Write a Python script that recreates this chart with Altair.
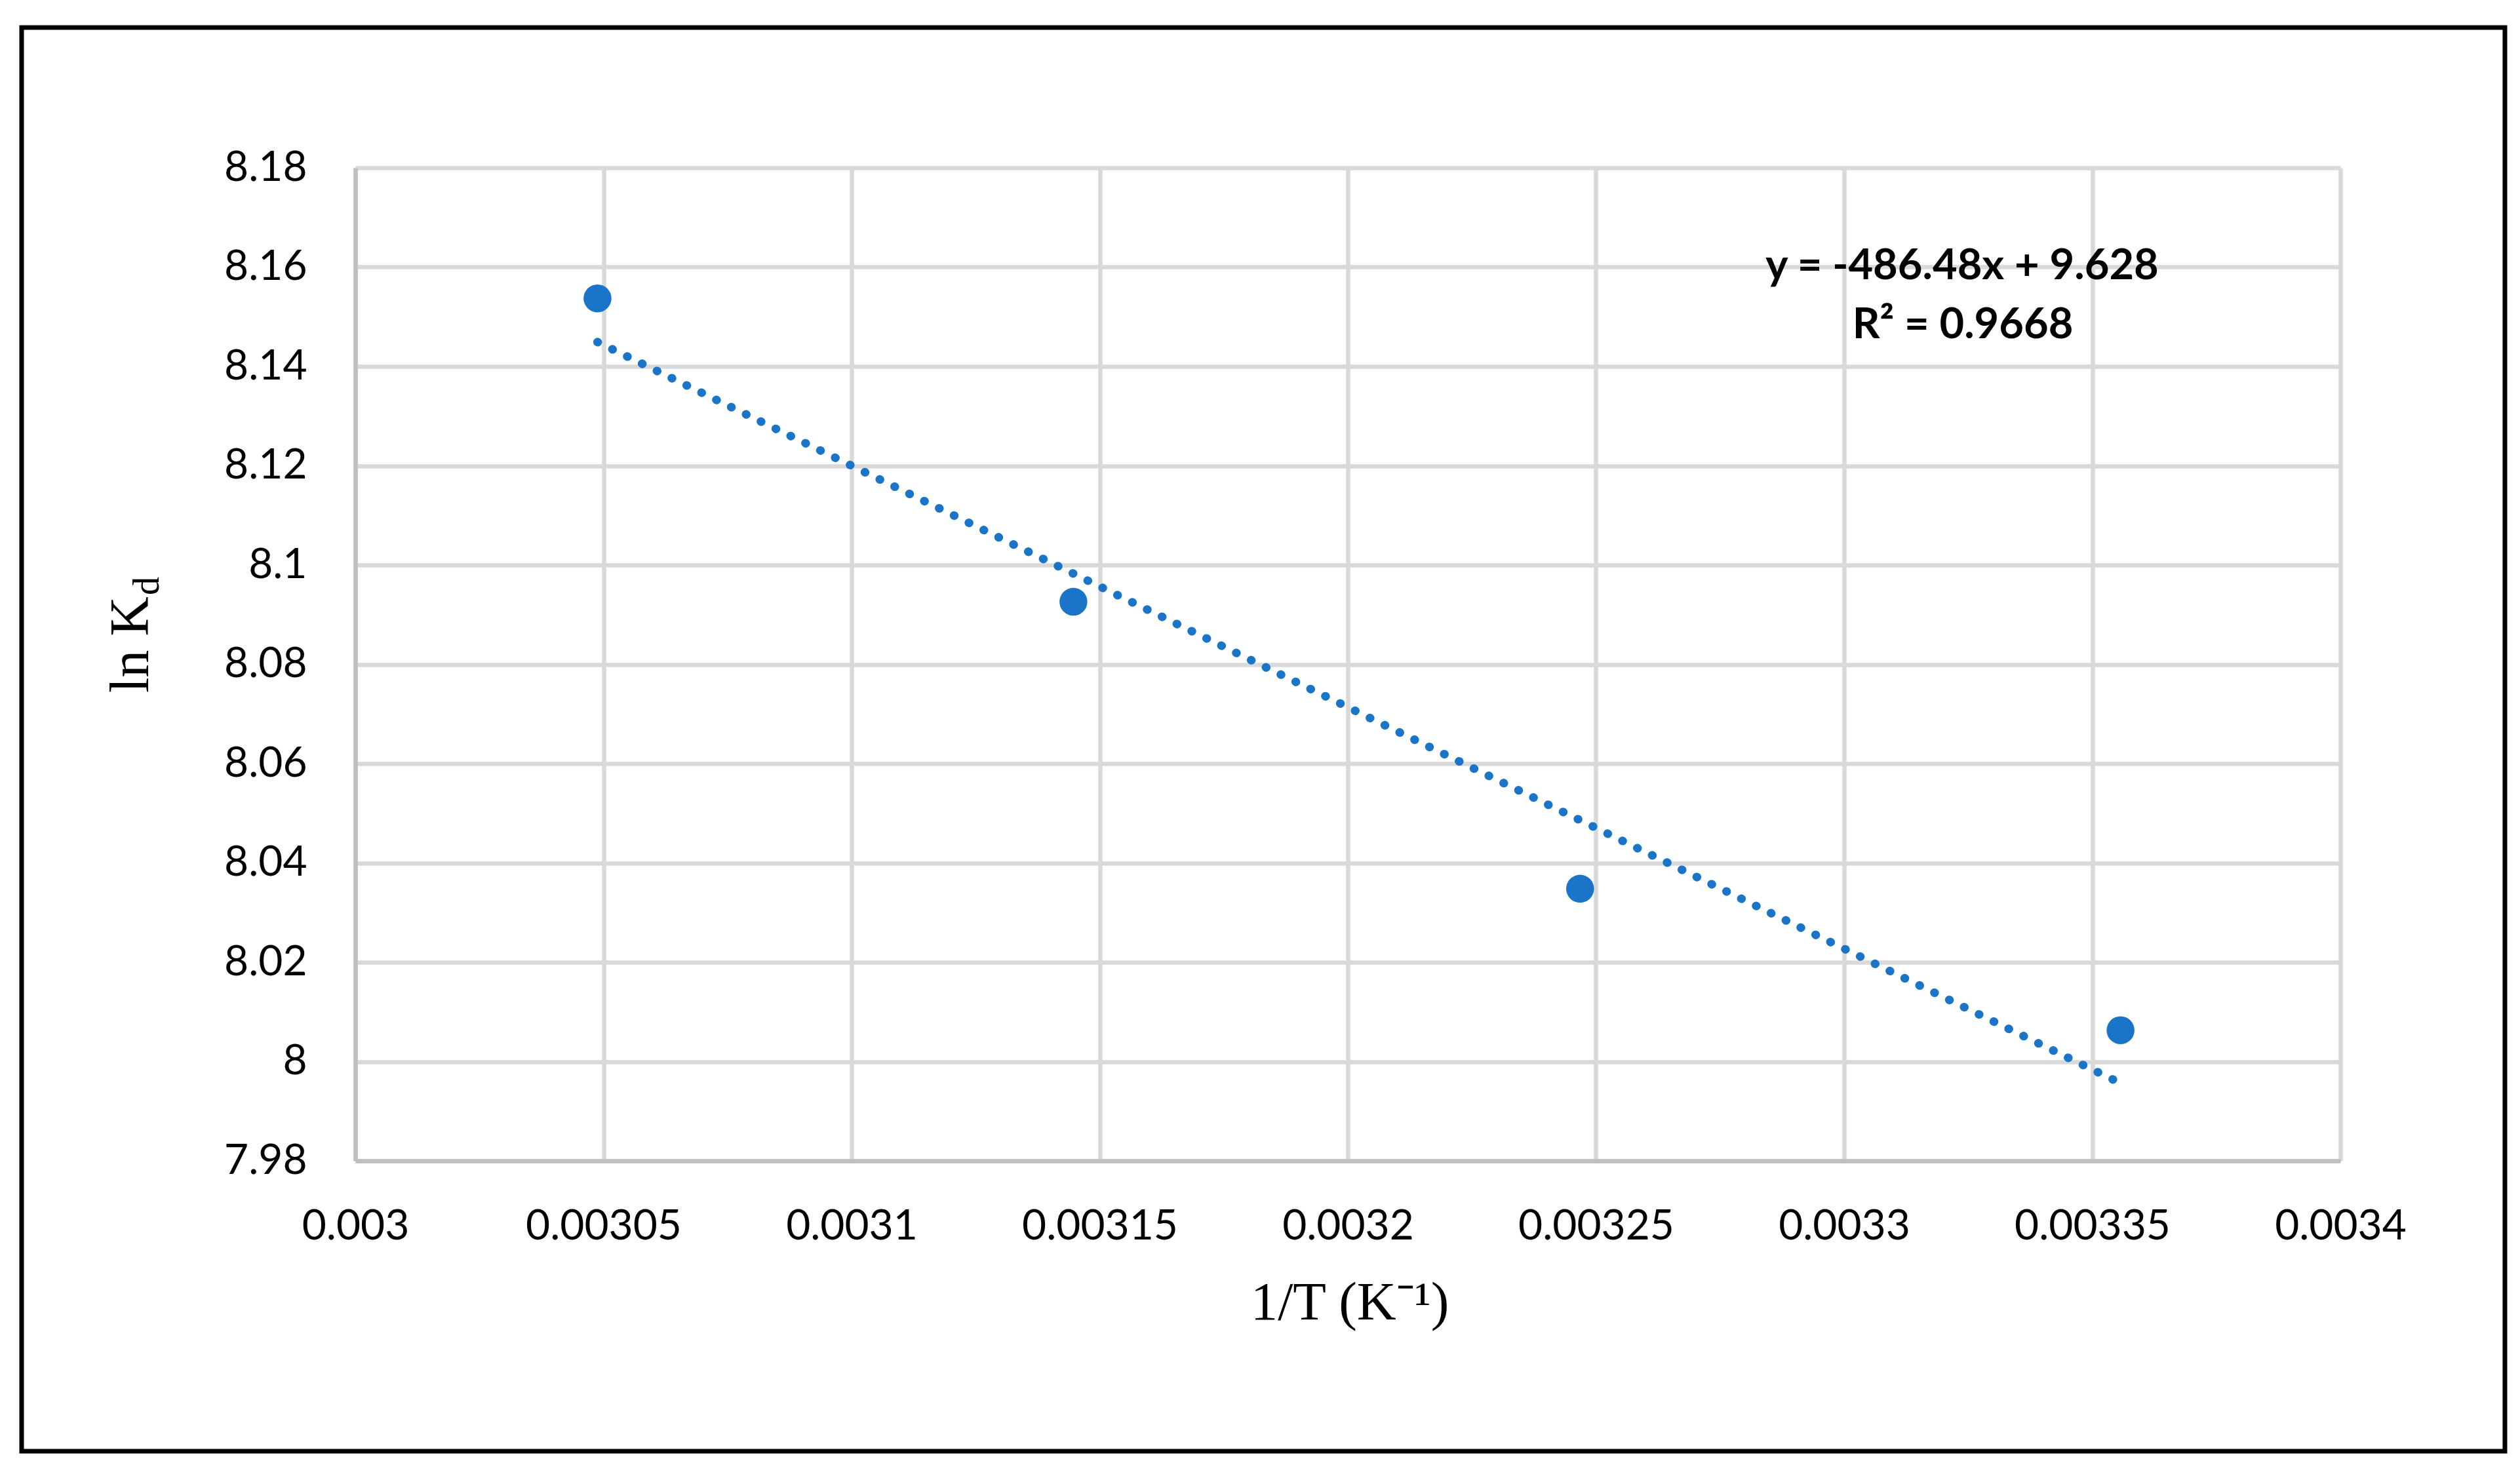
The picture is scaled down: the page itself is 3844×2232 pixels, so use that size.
import altair as alt
import pandas as pd

# data
inv_T = [0.0030488, 0.0031447, 0.0032468, 0.0033557]
ln_kd = [8.1537, 8.0926, 8.0348, 8.0063]

x_ticks = [0.003, 0.00305, 0.0031, 0.00315, 0.0032, 0.00325, 0.0033, 0.00335, 0.0034]
y_ticks = [7.98, 8.0, 8.02, 8.04, 8.06, 8.08, 8.1, 8.12, 8.14, 8.16, 8.18]

eq_line1 = "y = -486.48x + 9.628"
eq_line2 = "R\u00b2 = 0.9668"
x_title = "1/T (K\u207b\u00b9)"
y_title_main = "ln K"
y_title_sub = "d"

BLUE = "#1A75C9"
W, H = 3028, 1515

df = pd.DataFrame({"x": inv_T, "y": ln_kd})

xs = alt.Scale(domain=[0.003, 0.0034], nice=False, zero=False)
ys = alt.Scale(domain=[7.98, 8.18], nice=False, zero=False)

base = alt.Chart(df)

points = base.mark_circle(size=1810, color=BLUE, opacity=1).encode(
    x=alt.X("x:Q", scale=xs,
            axis=alt.Axis(values=x_ticks, format=".6~f", title=None, grid=True,
                          ticks=False, tickSize=0, labelPadding=68, labelLimit=1000,
                          labelFont="Lato", labelFontSize=64, labelColor="black",
                          gridColor="#D9D9D9", gridWidth=6.5,
                          domainColor="#BFBFBF", domainWidth=6.5,
                          labelOverlap=False, labelFlush=False)),
    y=alt.Y("y:Q", scale=ys,
            axis=alt.Axis(values=y_ticks, format=".2~f", title=None, grid=True,
                          ticks=False, tickSize=0, labelPadding=74, labelLimit=1000,
                          labelFont="Lato", labelFontSize=64, labelColor="black",
                          gridColor="#D9D9D9", gridWidth=6.5,
                          domainColor="#BFBFBF", domainWidth=6.5,
                          labelOverlap=False, labelFlush=False)),
)

trend = base.transform_regression("x", "y", method="linear").mark_line(
    color=BLUE, strokeWidth=13, strokeDash=[0.5, 24.7], strokeCap="round"
).encode(x=alt.X("x:Q", scale=xs), y=alt.Y("y:Q", scale=ys))

def label(text, x, y, **kw):
    return alt.Chart(pd.DataFrame({"t": [text]})).mark_text(**kw).encode(
        text="t:N", x=alt.value(x), y=alt.value(y))

eq1 = label(eq_line1, 2451, 170, font="Lato", fontSize=65, fontWeight="bold",
            align="center", baseline="alphabetic", color="black")
eq2 = label(eq_line2, 2452, 260, font="Lato", fontSize=65, fontWeight="bold",
            align="center", baseline="alphabetic", color="black")
xt = label(x_title, 1517, 1757, font="Liberation Serif", fontSize=83,
           align="center", baseline="alphabetic", color="black")
yt = label(y_title_main, -316, 801, font="Liberation Serif", fontSize=84, angle=270,
           align="left", baseline="alphabetic", color="black")
yts = label(y_title_sub, -300, 652, font="Liberation Serif", fontSize=56, angle=270,
            align="left", baseline="alphabetic", color="black")

frame = alt.Chart(pd.DataFrame({"a": [0]})).mark_rect(
    fillOpacity=0, stroke="black", strokeWidth=7
).encode(x=alt.value(-509), x2=alt.value(3279), y=alt.value(-214), y2=alt.value(1958))

chart = alt.layer(frame, trend, points, eq1, eq2, xt, yt, yts).properties(
    width=W, height=H,
    autosize=alt.AutoSizeParams(type="none"),
    padding={"left": 534, "top": 248, "right": 262, "bottom": 450},
    background="white",
).configure_view(strokeWidth=0)

chart.save("out.html", embed_options={"renderer": "svg", "actions": False})
